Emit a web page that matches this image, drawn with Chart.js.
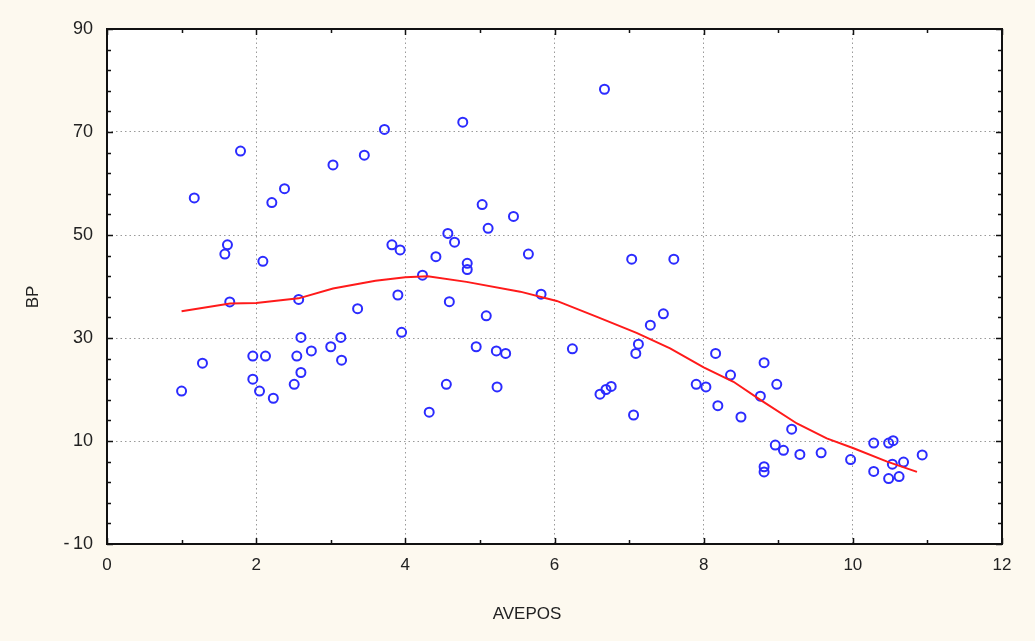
<!DOCTYPE html>
<html>
<head>
<meta charset="utf-8">
<script src="https://cdn.jsdelivr.net/npm/chart.js@4/dist/chart.umd.min.js"></script>
<style>
  html, body { margin: 0; padding: 0; background: #fdf9ef; }
  #wrap { width: 1035px; height: 641px; position: relative; }
</style>
</head>
<body>
<div id="wrap"><canvas id="c"></canvas></div>
<script>
// Scatter data: AVEPOS (x) vs BP (y)
const aveposValues = [
  1.00, 1.17, 1.28, 1.58, 1.615, 1.646, 1.79, 1.955, 1.955, 2.045,
  2.09, 2.125, 2.21, 2.23, 2.38, 2.51, 2.545, 2.57, 2.60, 2.60,
  2.74, 3.00, 3.03, 3.135, 3.145, 3.36, 3.45, 3.72, 3.82, 3.90,
  3.93, 3.95, 4.23, 4.32, 4.41, 4.55, 4.57, 4.59, 4.66, 4.77,
  4.83, 4.83, 4.95, 5.03, 5.085, 5.11, 5.22, 5.23, 5.345, 5.45,
  5.65, 5.82, 6.24, 6.61, 6.67, 6.69, 6.76, 7.035, 7.06, 7.09,
  7.125, 7.285, 7.46, 7.60, 7.90, 8.03, 8.16, 8.19, 8.36, 8.50,
  8.76, 8.81, 8.81, 8.81, 8.96, 8.98, 9.07, 9.18, 9.29, 9.575,
  9.97, 10.28, 10.28, 10.48, 10.54, 10.53, 10.68, 10.48, 10.62, 10.93
];
const bpValues = [
  19.7, 57.2, 25.1, 46.3, 48.1, 37.0, 66.3, 26.5, 22.0, 19.7,
  44.9, 26.5, 56.3, 18.3, 59.0, 21.0, 26.5, 37.5, 30.1, 23.3,
  27.5, 28.3, 63.6, 30.1, 25.7, 35.7, 65.5, 70.5, 48.1, 38.35,
  47.1, 31.1, 42.2, 15.6, 45.8, 21.0, 50.3, 37.05, 48.6, 71.9,
  44.5, 43.3, 28.3, 55.9, 34.3, 51.3, 27.5, 20.5, 27.0, 53.6,
  46.3, 38.5, 27.9, 19.1, 78.3, 20.0, 20.6, 45.3, 15.05, 27.0,
  28.8, 32.5, 34.7, 45.3, 21.0, 20.5, 27.0, 16.85, 22.8, 14.66,
  18.7, 25.2, 5.0, 4.0, 9.2, 21.0, 8.2, 12.3, 7.4, 7.7,
  6.4, 9.6, 4.1, 9.6, 10.06, 5.5, 5.9, 2.7, 3.1, 7.3
];
// Smoothed fit line
const fitX = [1.0, 1.65, 2.0, 2.57, 3.03, 3.6, 4.0, 4.3, 4.82, 5.54, 6.03, 6.57, 7.1, 7.55, 8.0, 8.4, 8.76, 9.25, 9.65, 10.01, 10.46, 10.86];
const fitY = [35.2, 36.7, 36.8, 37.7, 39.6, 41.1, 41.8, 42.0, 40.9, 39.0, 37.2, 34.1, 31.0, 28.0, 24.3, 21.5, 18.0, 13.4, 10.5, 8.6, 6.0, 4.0];
// Axis settings
const xMin = 0, xMax = 12, xMinorStep = 1, xLabelStep = 2;
const yMin = -10, yMax = 90, yMinorStep = 4, yLabelStep = 20;
const xTitle = 'AVEPOS';
const yTitle = 'BP';

const FONT = "'Liberation Sans', Arial, sans-serif";
const isMajor = (v, min, step) => Math.abs(((v - min) / step) - Math.round((v - min) / step)) < 1e-6;

const scatterPoints = aveposValues.map((x, i) => ({ x: x, y: bpValues[i] }));
const fitPoints = fitX.map((x, i) => ({ x: x, y: fitY[i] }));

const framePlugin = {
  id: 'frame',
  beforeDraw(chart) {
    const { ctx, chartArea: a } = chart;
    ctx.save();
    ctx.fillStyle = '#ffffff';
    ctx.fillRect(a.left, a.top, a.right - a.left, a.bottom - a.top);
    ctx.restore();
  },
  afterDraw(chart) {
    const { ctx, chartArea: a, scales } = chart;
    ctx.save();
    ctx.strokeStyle = '#111';
    ctx.lineWidth = 1.5;
    // inward ticks
    scales.y.ticks.forEach(t => {
      const py = Math.round(scales.y.getPixelForValue(t.value)) + 0.5;
      const len = isMajor(t.value, yMin, yLabelStep) ? 6 : 4;
      ctx.beginPath();
      ctx.moveTo(a.left, py); ctx.lineTo(a.left + len, py);
      ctx.moveTo(a.right, py); ctx.lineTo(a.right - len, py);
      ctx.stroke();
    });
    scales.x.ticks.forEach(t => {
      const px = Math.round(scales.x.getPixelForValue(t.value)) + 0.5;
      const len = isMajor(t.value, xMin, xLabelStep) ? 6 : 4;
      ctx.beginPath();
      ctx.moveTo(px, a.bottom); ctx.lineTo(px, a.bottom - len);
      ctx.moveTo(px, a.top); ctx.lineTo(px, a.top + len);
      ctx.stroke();
    });
    // frame
    ctx.lineWidth = 2;
    ctx.strokeStyle = '#111';
    ctx.strokeRect(a.left, a.top, a.right - a.left, a.bottom - a.top);
    // axis titles
    ctx.fillStyle = '#222';
    ctx.font = '17px ' + FONT;
    ctx.textAlign = 'center';
    ctx.textBaseline = 'middle';
    ctx.fillText(xTitle, 527, 614);
    ctx.translate(33, 297);
    ctx.rotate(-Math.PI / 2);
    ctx.fillText(yTitle, 0, 0);
    ctx.restore();
  }
};

const gridColor = (min, step, lo, hi) => (ctx) => {
  const v = ctx.tick ? ctx.tick.value : null;
  if (v === null || v === undefined) return 'rgba(0,0,0,0)';
  if (Math.abs(v - lo) < 1e-6 || Math.abs(v - hi) < 1e-6) return 'rgba(0,0,0,0)';
  return isMajor(v, min, step) ? '#9a9a9a' : 'rgba(0,0,0,0)';
};

new Chart(document.getElementById('c'), {
  type: 'scatter',
  data: {
    datasets: [
      {
        type: 'line',
        label: 'fit',
        data: fitPoints,
        borderColor: '#ff1a1a',
        borderWidth: 2,
        pointRadius: 0,
        tension: 0,
        fill: false,
        order: 0
      },
      {
        type: 'scatter',
        label: 'BP',
        data: scatterPoints,
        pointStyle: 'circle',
        pointRadius: 4.5,
        borderWidth: 2,
        borderColor: '#2b2bff',
        backgroundColor: 'rgba(0,0,0,0)',
        order: 1
      }
    ]
  },
  options: {
    responsive: true,
    maintainAspectRatio: false,
    animation: false,
    layout: { padding: { left: 0, top: 29, right: 33, bottom: 0 } },
    plugins: { legend: { display: false }, tooltip: { enabled: false } },
    scales: {
      x: {
        type: 'linear',
        min: xMin, max: xMax,
        afterFit(s) { s.height = 97; },
        border: { display: false, dash: [1.5, 3] },
        grid: { color: gridColor(xMin, xLabelStep, xMin, xMax), lineWidth: 1, drawTicks: false },
        ticks: {
          stepSize: xMinorStep,
          autoSkip: false,
          maxRotation: 0,
          padding: 11,
          color: '#222',
          font: { family: FONT, size: 17 },
          callback: (v) => isMajor(v, xMin, xLabelStep) ? String(v) : ''
        }
      },
      y: {
        type: 'linear',
        min: yMin, max: yMax,
        afterFit(s) { s.width = 107; },
        border: { display: false, dash: [1.5, 3] },
        grid: { color: gridColor(yMin, yLabelStep, yMin, yMax), lineWidth: 1, drawTicks: false },
        ticks: {
          stepSize: yMinorStep,
          autoSkip: false,
          padding: 14,
          color: '#222',
          font: { family: FONT, size: 18 },
          callback: (v) => isMajor(v, yMin, yLabelStep) ? String(v).replace('-', '-\u2009') : ''
        }
      }
    }
  },
  plugins: [framePlugin]
});
</script>
</body>
</html>
